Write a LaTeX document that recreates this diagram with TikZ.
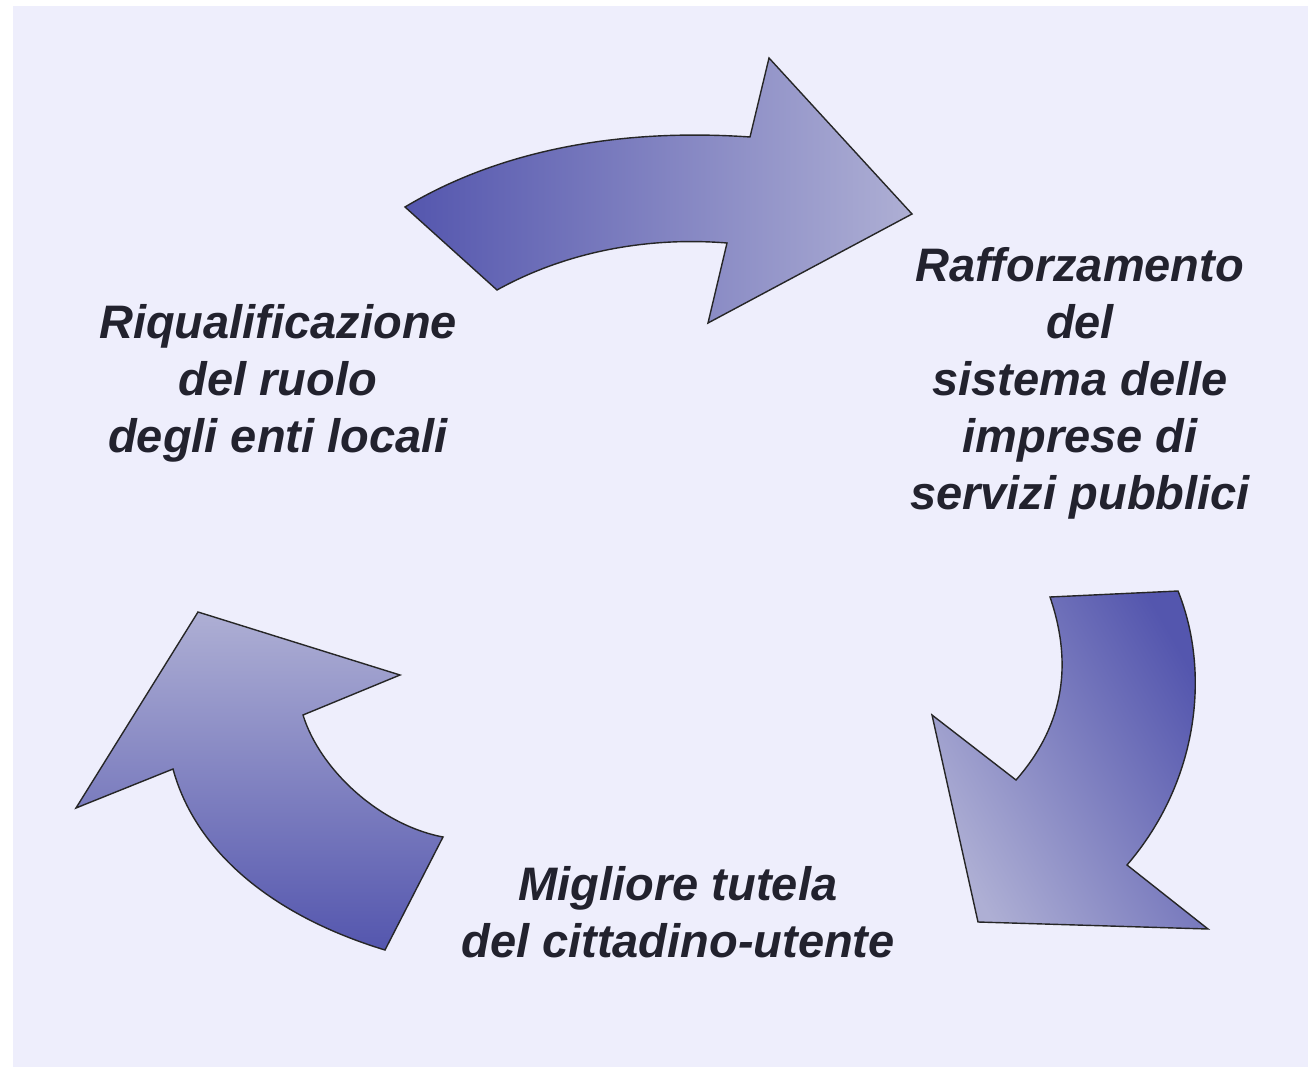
\documentclass[tikz,border=0pt]{standalone}
\usepackage{fontspec}
\setmainfont{Liberation Sans}
\definecolor{sfondo}{RGB}{238,238,252}
\definecolor{frecciascura}{RGB}{84,86,174}
\definecolor{frecciachiara}{RGB}{174,175,212}
\definecolor{testoscuro}{RGB}{34,34,46}

\begin{document}
\begin{tikzpicture}[x=1pt,y=-1pt,
    freccia/.style={draw=black!85, line width=1.4pt, line join=miter},
    testociclo/.style={text=testoscuro, align=center, inner sep=0pt,
      font=\fontsize{47}{57}\selectfont\bfseries\itshape}]
  \useasboundingbox (0,0) rectangle (1308,1067);
  \fill[white] (0,0) rectangle (1308,1067);
  \fill[sfondo] (13,6) rectangle (1308,1067);
  % frecce del ciclo
  \shadedraw[freccia, left color=frecciascura, right color=frecciachiara]
    (405,207) .. controls (500,150) and (620,128) .. (750,137) -- (769,58) -- (912,214)
    -- (708,323) -- (727,243) .. controls (640,236) and (560,255) .. (497,290) -- cycle;
  \shadedraw[freccia, top color=frecciascura, bottom color=frecciachiara, shading angle=-60]
    (1050,597) .. controls (1075,670) and (1060,730) .. (1016,780) -- (932,715) -- (978,922)
    -- (1208,929) -- (1127,865) .. controls (1200,780) and (1210,670) .. (1178,591) -- cycle;
  \shadedraw[freccia, top color=frecciachiara, bottom color=frecciascura]
    (198,612) -- (400,675) -- (303,715) .. controls (320,770) and (380,825) .. (443,837)
    -- (385,950) .. controls (270,915) and (195,850) .. (173,769) -- (76,808) -- cycle;
  % testi
  \node[testociclo] (riqualificazione) at (278,383) {Riqualificazione\\del ruolo\\degli enti locali};
  \node[testociclo] (rafforzamento) at (1080,383) {Rafforzamento\\del\\sistema delle\\imprese di\\servizi pubblici};
  \node[testociclo] (tutela) at (678,912) {Migliore tutela\\del cittadino-utente};
\end{tikzpicture}
\end{document}
